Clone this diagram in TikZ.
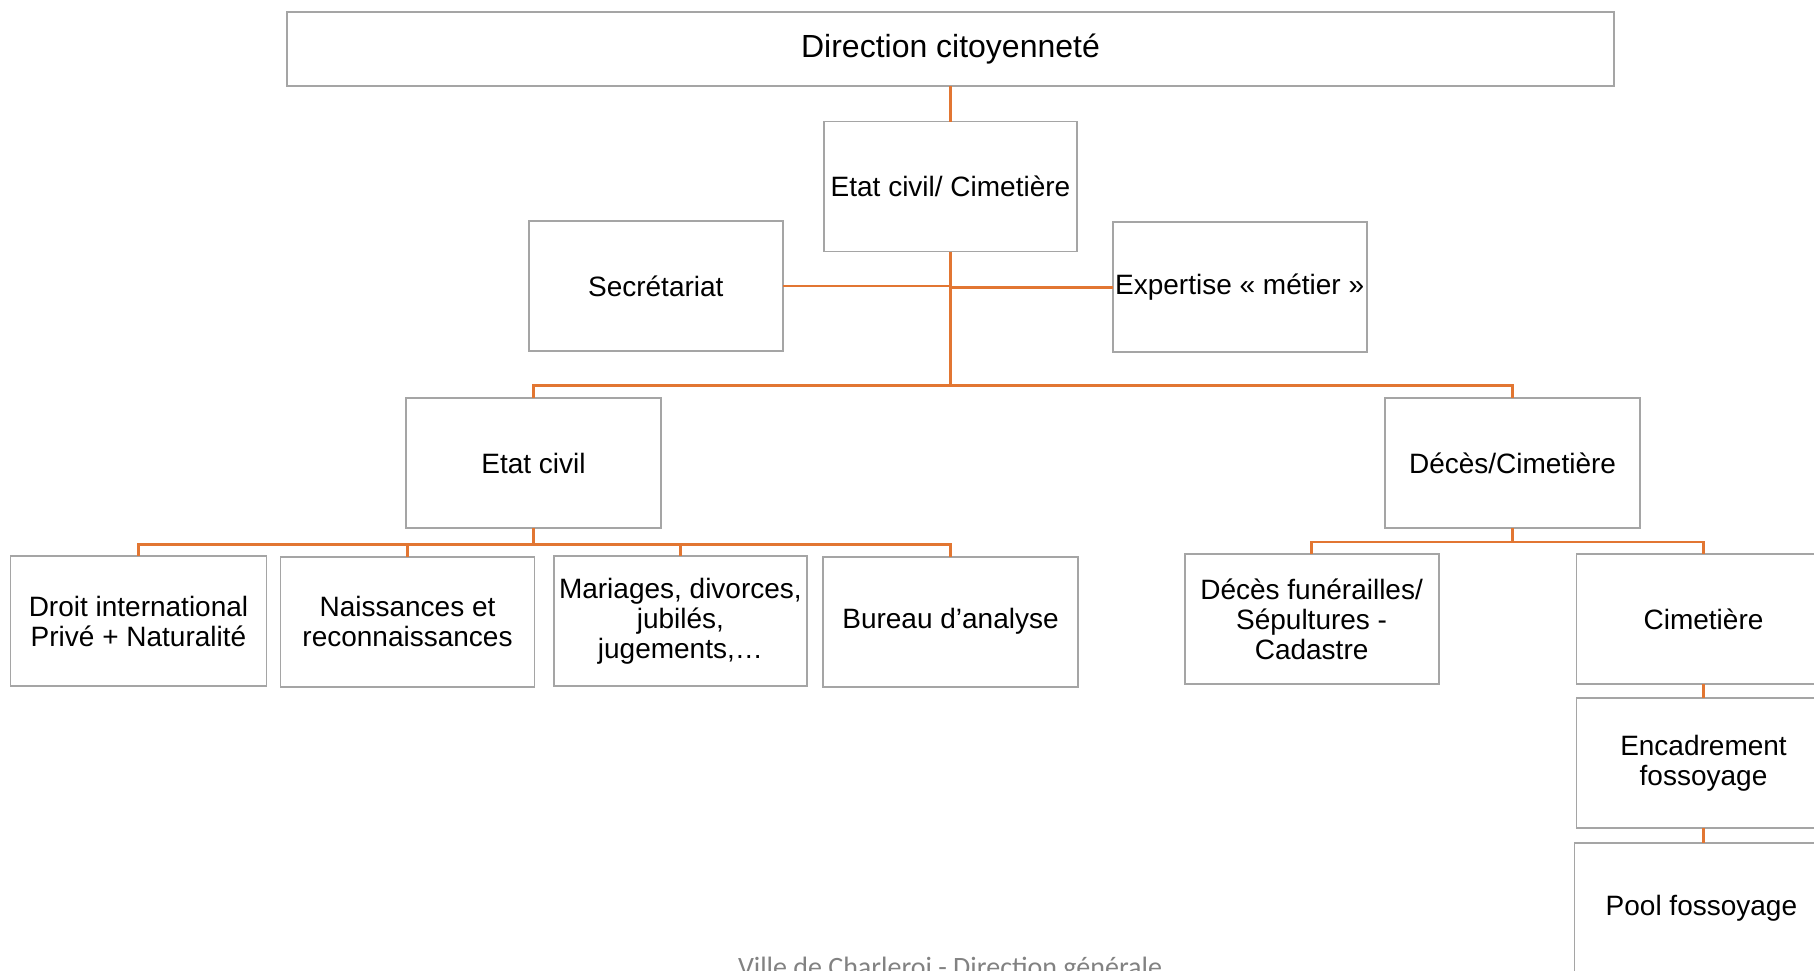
\documentclass[tikz,border=0pt]{standalone}
\usepackage{fontspec}
\setmainfont{Liberation Sans}
\newfontfamily\footfont{Carlito}
\definecolor{lineorange}{RGB}{226,118,50}
\definecolor{boxgrey}{RGB}{165,165,165}
\definecolor{footgrey}{RGB}{130,130,130}
\tikzset{
  orgbox/.style={draw=boxgrey, line width=1.8pt, fill=white, inner sep=1pt, outer sep=0pt,
    minimum width=254pt, minimum height=130pt, align=center,
    font=\fontsize{28}{30}\selectfont},
  link/.style={draw=lineorange, line width=2.4pt}
}
\begin{document}
\begin{tikzpicture}[x=1pt,y=-1pt]
\useasboundingbox (0,0) rectangle (1814,970);
% nodes
\node[orgbox, minimum width=1327pt, minimum height=74pt, font=\fontsize{32}{34}\selectfont] (top) at (950.5,49) {Direction citoyennet\'e};
\node[orgbox, minimum width=253pt] (ecc) at (950.5,186.5) {Etat civil/ Cimeti\`ere};
\node[orgbox] (sec) at (655.8,286.2) {Secr\'etariat};
\node[orgbox] (exp) at (1239.6,287.3) {Expertise « m\'etier »};
\node[orgbox, minimum width=255pt] (ec) at (533.5,463) {Etat civil};
\node[orgbox, minimum width=255pt] (dc) at (1512.5,463) {D\'ec\`es/Cimeti\`ere};
\node[orgbox, minimum width=256pt] (droit) at (138.5,621) {Droit international\\Priv\'e + Naturalit\'e};
\node[orgbox] (nais) at (407.5,621.7) {Naissances et\\reconnaissances};
\node[orgbox, minimum width=253pt] (mar) at (680.4,621) {Mariages, divorces,\\jubil\'es,\\jugements,…};
\node[orgbox, minimum width=255pt] (bur) at (950.5,621.7) {Bureau d’analyse};
\node[orgbox] (def) at (1311.6,619.3) {D\'ec\`es fun\'erailles/\\S\'epultures -\\Cadastre};
\node[orgbox] (cim) at (1703.5,619.3) {Cimeti\`ere};
\node[orgbox] (enc) at (1703.5,763.3) {Encadrement\\fossoyage};
\node[orgbox] (pool) at (1701.4,908.3) {Pool fossoyage};
\node[anchor=base, inner sep=0pt, text=footgrey, font=\footfont\fontsize{28}{30}\selectfont] (foot) at (950,976) {Ville de Charleroi - Direction g\'en\'erale};
% junctions
\coordinate (j1) at (950.5,385.5);
\coordinate (j2) at (533.5,544.5);
\coordinate (j3) at (1512.5,541.7);
% connectors
\draw[link] (top.south) -- (ecc.north);
\draw[link] (ecc.south) -- (j1);
\draw[link] (sec.east) -- (sec.east -| j1);
\draw[link] (exp.west) -- (exp.west -| j1);
\draw[link] (ec.north) |- (j1) -| (dc.north);
\draw[link] (ec.south) -- (j2);
\draw[link] (droit.north) |- (j2) -| (bur.north);
\draw[link] (nais.north) -- (nais.north |- j2);
\draw[link] (mar.north) -- (mar.north |- j2);
\draw[link] (dc.south) -- (j3);
\draw[link] (def.north) |- (j3) -| (cim.north);
\draw[link] (cim.south) -- (enc.north);
\draw[link] (enc.south) -- (enc.south |- pool.north);
\end{tikzpicture}
\end{document}
